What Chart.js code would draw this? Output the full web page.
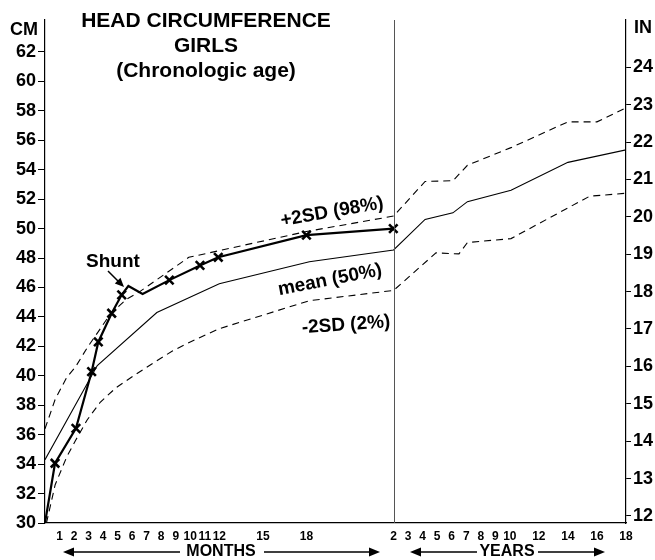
<!DOCTYPE html>
<html><head><meta charset="utf-8">
<script src="https://cdn.jsdelivr.net/npm/chart.js@4.4.1/dist/chart.umd.min.js"></script>
<style>html,body{margin:0;padding:0;background:#fff}#wrap{width:655px;height:560px}</style>
</head><body><div id="wrap"><canvas id="c" width="655" height="560"></canvas></div>
<script>
// ---- DATA (ages in months, head circumference in cm) ----
const upperAge = [0, 0.7, 1.5, 2.1, 2.9, 3.6, 4.5, 5.6, 6.5, 9.9, 18, 24, 50, 73, 85, 121, 168, 192, 216];
const upperCm  = [36.4, 38.4, 39.9, 40.6, 41.9, 42.9, 44.2, 45.2, 45.7, 48.05, 49.8, 50.85, 53.2, 53.25, 54.3, 55.5, 57.25, 57.25, 58.2];
const meanAge  = [0, 3.6, 7.7, 12, 18.2, 24, 50, 73, 85, 121, 168, 216];
const meanCm   = [34.3, 40.7, 44.3, 46.25, 47.75, 48.55, 50.62, 51.07, 51.83, 52.6, 54.5, 55.35];
const lowerAge = [0.1, 0.7, 1.5, 2.1, 2.9, 3.8, 4.9, 6.1, 7.5, 8.8, 10, 11.1, 12, 18.2, 24, 59, 78, 85, 121, 186, 216];
const lowerCm  = [30.0, 32.6, 34.5, 35.6, 37.0, 38.2, 39.2, 40.0, 40.9, 41.7, 42.3, 42.8, 43.2, 45.1, 45.8, 48.35, 48.28, 49.05, 49.32, 52.2, 52.4];
const patientAge = [0, 0.69, 2.13, 3.21, 3.67, 4.59, 5.28, 5.74, 6.72, 8.56, 10.67, 11.93, 18.0, 23.98];
const patientCm  = [30, 34.06, 36.43, 40.28, 42.3, 44.25, 45.5, 46.1, 45.56, 46.5, 47.5, 48.05, 49.56, 50.0];
const patientVisit = [0, 1, 1, 1, 1, 1, 1, 0, 0, 1, 1, 1, 1, 1];
const monthTicks = [1,2,3,4,5,6,7,8,9,10,11,12,15,18];
const yearTicks  = [2,3,4,5,6,7,8,9,10,12,14,16,18];
const cmTicks = [30,32,34,36,38,40,42,44,46,48,50,52,54,56,58,60,62];
const inTicks = [12,13,14,15,16,17,18,19,20,21,22,23,24];
const titleLines = ['HEAD CIRCUMFERENCE', 'GIRLS', '(Chronologic age)'];

// ---- axis transform: months up to 24, then one unit per year ----
const toAxis = m => m <= 24 ? m : 24 + (m / 12 - 2);
const pts = (a, v) => a.map((m, i) => ({x: toAxis(m), y: v[i]}));
const xTickVals = monthTicks.map(m => m).concat(yearTicks.map(yr => toAxis(yr * 12)));
const xTickLabel = {};
monthTicks.forEach(m => xTickLabel[m] = String(m));
yearTicks.forEach(yr => xTickLabel[toAxis(yr * 12)] = String(yr));

const FONT = '"Liberation Sans", Arial, Helvetica, sans-serif';
const CM_MIN = 30, CM_MAX = 64.17;

function arrowHead(ctx, x, y, dir, len, hw) {
  ctx.beginPath();
  ctx.moveTo(x, y);
  ctx.lineTo(x - dir * len, y - hw);
  ctx.lineTo(x - dir * len, y + hw);
  ctx.closePath();
  ctx.fill();
}
function rotText(ctx, t, x, y, deg) {
  ctx.save(); ctx.translate(x, y); ctx.rotate(deg * Math.PI / 180);
  ctx.fillText(t, 0, 0); ctx.restore();
}

const deco = {
  id: 'deco',
  afterDraw(chart) {
    const {ctx, chartArea: ca, scales} = chart;
    const xs = scales.x;
    ctx.save();
    // divider at 2 years
    const xv = Math.round(xs.getPixelForValue(24)) + 0.5;
    ctx.strokeStyle = '#555'; ctx.lineWidth = 1;
    ctx.beginPath(); ctx.moveTo(xv, ca.top); ctx.lineTo(xv, ca.bottom); ctx.stroke();

    ctx.fillStyle = '#000';
    ctx.textAlign = 'center'; ctx.textBaseline = 'middle';
    ctx.font = 'bold 21px ' + FONT;
    titleLines.forEach((t, i) => ctx.fillText(t, 206, 21 + i * 25));
    ctx.font = 'bold 18px ' + FONT;
    ctx.fillText('CM', 24, 30);
    ctx.fillText('IN', 643, 28);

    // curve labels
    ctx.font = 'bold 19px ' + FONT;
    rotText(ctx, '+2SD (98%)', 332, 212, -10);
    rotText(ctx, 'mean (50%)', 330, 280, -11);
    rotText(ctx, '-2SD (2%)', 346, 325, -4);
    ctx.fillText('Shunt', 113, 262);
    // shunt arrow
    ctx.strokeStyle = '#000'; ctx.lineWidth = 1.5;
    const ax0 = 108, ay0 = 271, ax1 = 124, ay1 = 287;
    ctx.beginPath(); ctx.moveTo(ax0, ay0); ctx.lineTo(ax1 - 3, ay1 - 3); ctx.stroke();
    ctx.save(); ctx.translate(ax1, ay1); ctx.rotate(Math.atan2(ay1 - ay0, ax1 - ax0));
    arrowHead(ctx, 0, 0, 1, 9, 4); ctx.restore();

    // months / years arrows
    ctx.font = 'bold 16px ' + FONT;
    const ay = 552;
    ctx.fillText('MONTHS', 221, ay);
    ctx.fillText('YEARS', 507, ay);
    ctx.lineWidth = 1.5;
    ctx.beginPath();
    ctx.moveTo(70, ay); ctx.lineTo(180, ay);
    ctx.moveTo(264, ay); ctx.lineTo(372, ay);
    ctx.moveTo(418, ay); ctx.lineTo(477, ay);
    ctx.moveTo(538, ay); ctx.lineTo(597, ay);
    ctx.stroke();
    arrowHead(ctx, 63, ay, -1, 11, 4.5);
    arrowHead(ctx, 380, ay, 1, 11, 4.5);
    arrowHead(ctx, 410, ay, -1, 11, 4.5);
    arrowHead(ctx, 605, ay, 1, 11, 4.5);
    ctx.restore();
  }
};

const dashed = [7, 5];
new Chart(document.getElementById('c'), {
  type: 'line',
  data: {
    datasets: [
      {data: pts(upperAge, upperCm), borderColor: '#000', borderWidth: 1.1, borderDash: dashed, pointRadius: 0, tension: 0},
      {data: pts(meanAge, meanCm), borderColor: '#000', borderWidth: 1.1, pointRadius: 0, tension: 0},
      {data: pts(lowerAge, lowerCm), borderColor: '#000', borderWidth: 1.1, borderDash: dashed, pointRadius: 0, tension: 0},
      {data: pts(patientAge, patientCm), borderColor: '#000', borderWidth: 2.2, tension: 0,
       pointStyle: 'crossRot', pointRadius: ctx => patientVisit[ctx.dataIndex] ? 6 : 0,
       pointBorderWidth: 2.6, pointBorderColor: '#000', pointBackgroundColor: '#000'}
    ]
  },
  options: {
    responsive: false, animation: false, devicePixelRatio: 1,
    layout: {padding: {top: 20, left: 0, right: 0, bottom: 0}},
    plugins: {legend: {display: false}, tooltip: {enabled: false}},
    scales: {
      x: {
        type: 'linear', min: 0, max: 40, position: 'bottom',
        afterBuildTicks: s => { s.ticks = xTickVals.map(v => ({value: v})); },
        afterFit: s => { s.height = 37; },
        grid: {display: false, drawTicks: false},
        border: {display: true, color: '#000', width: 1.2},
        ticks: {autoSkip: false, maxRotation: 0, padding: 6, color: '#000',
                font: {family: FONT, size: 12, weight: 'bold'},
                callback: v => xTickLabel[v] ?? ''}
      },
      y: {
        type: 'linear', min: CM_MIN, max: CM_MAX, position: 'left',
        afterBuildTicks: s => { s.ticks = cmTicks.map(v => ({value: v})); },
        afterFit: s => { s.width = 45; },
        grid: {drawOnChartArea: false, color: '#000', tickLength: 7},
        border: {display: true, color: '#000', width: 1.2},
        ticks: {padding: 2, color: '#000', font: {family: FONT, size: 18, weight: 'bold'}}
      },
      yIn: {
        type: 'linear', min: CM_MIN / 2.54, max: CM_MAX / 2.54, position: 'right',
        afterBuildTicks: s => { s.ticks = inTicks.map(v => ({value: v})); },
        afterFit: s => { s.width = 29; },
        grid: {drawOnChartArea: false, color: '#000', tickLength: 5},
        border: {display: true, color: '#000', width: 1.2},
        ticks: {padding: 2, color: '#000', font: {family: FONT, size: 18, weight: 'bold'}}
      }
    }
  },
  plugins: [deco]
});
</script>
</body></html>
